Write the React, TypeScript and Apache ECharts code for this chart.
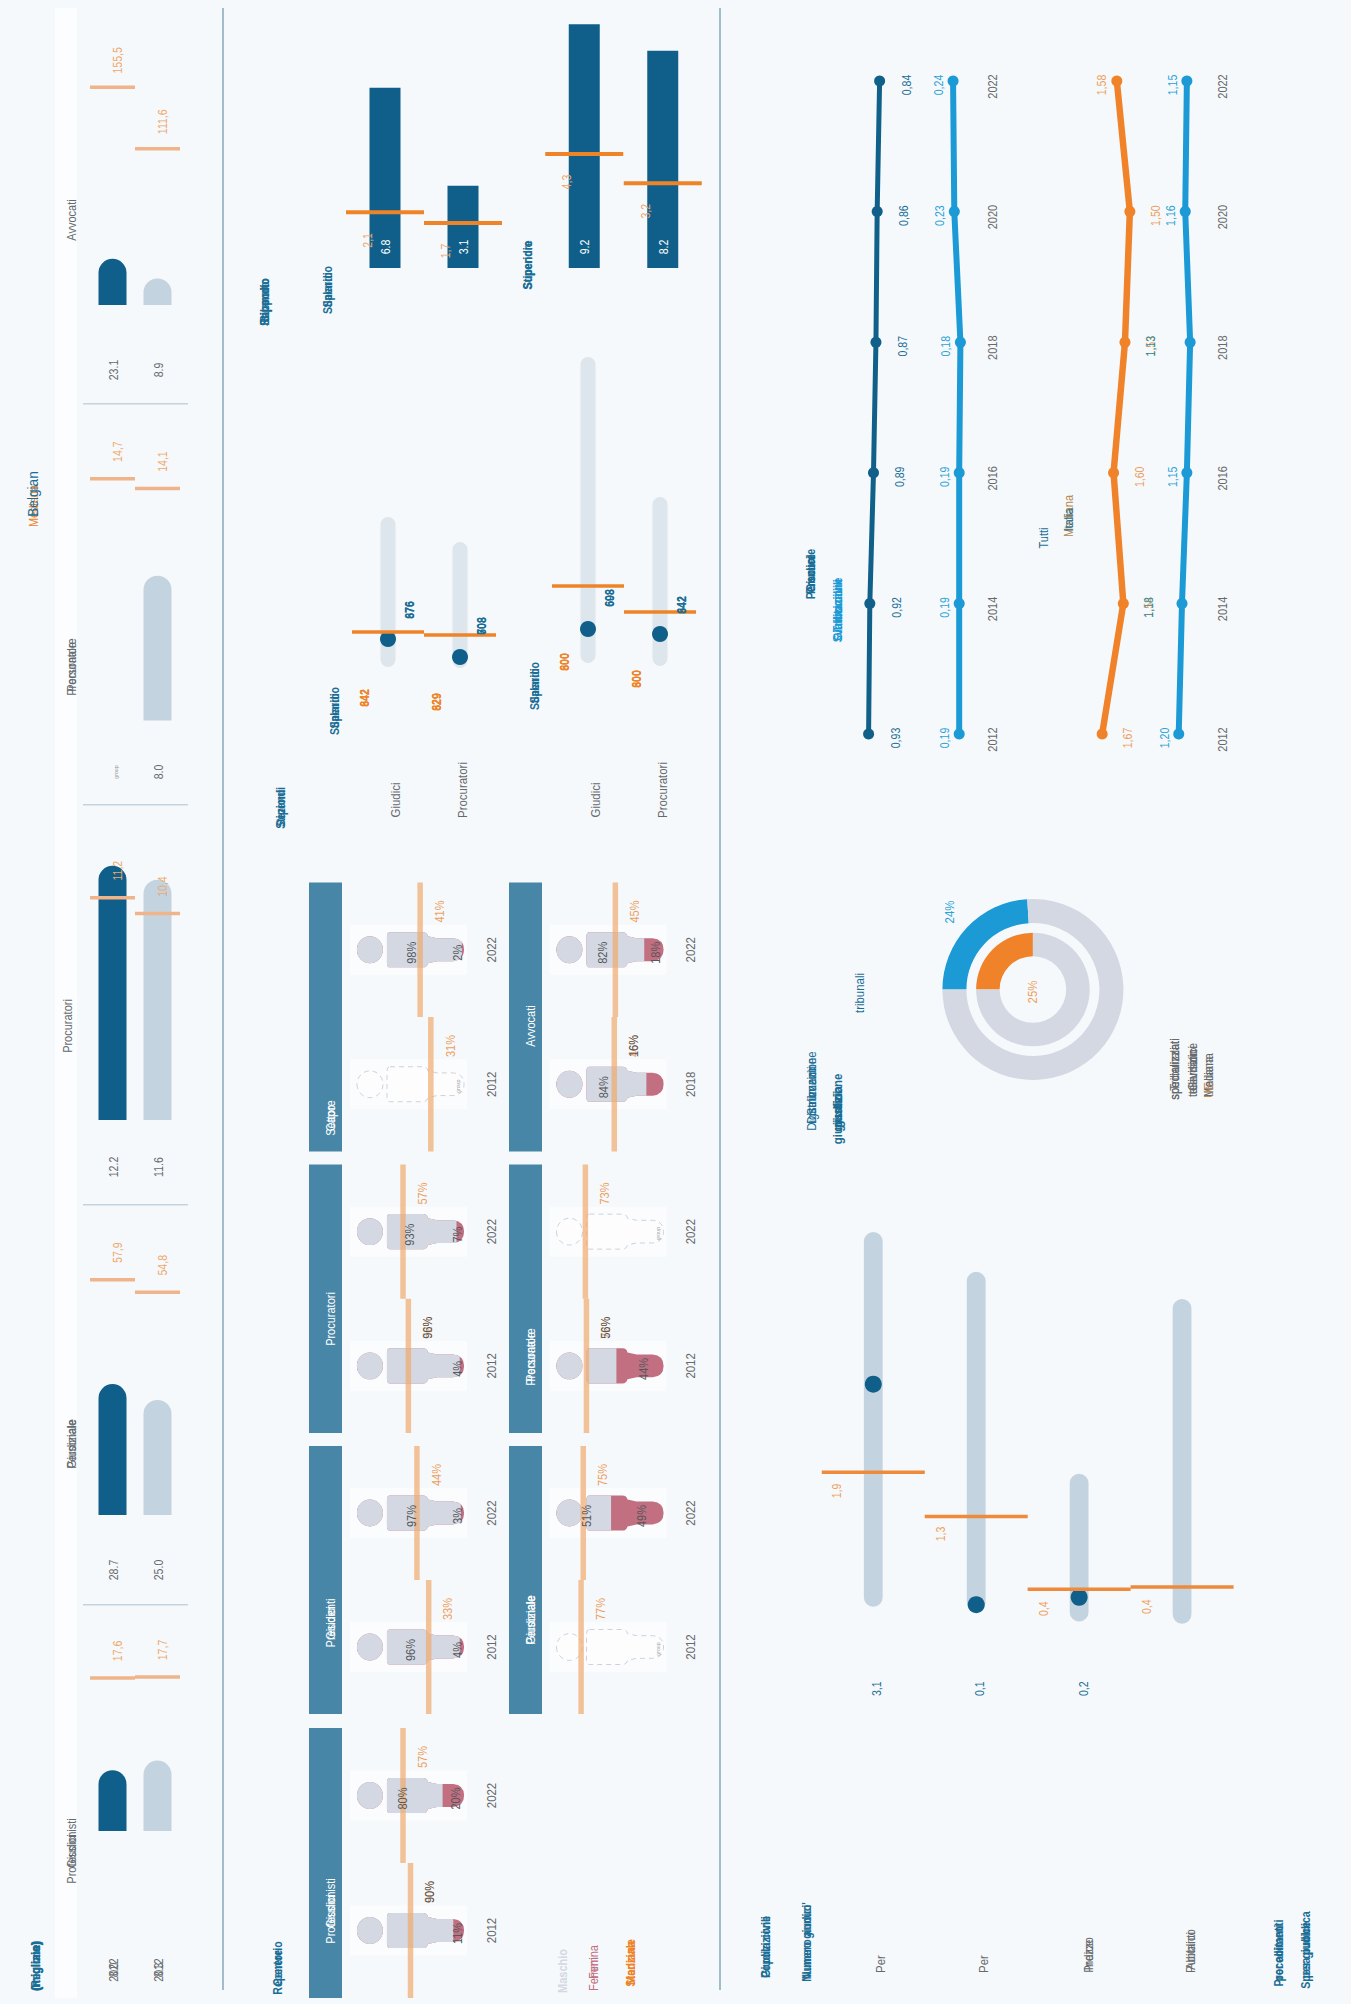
import React, { useEffect, useRef } from "react";
import * as echarts from "echarts";

const BG = "#f6f9fb", DARK = "#0f5f8a", LIGHT = "#c3d4e0", PALE = "#dce6ec", ORANGE = "#ee8427", PEACH = "#f2bd94";
const SKY = "#1c9ad6", TEAL = "#4786a6", BLUE = "#1a6e96", GREY = "#666a6e", BODY = "#d3d8e2", PINK = "#c26f82";

// Section 1: staff per 100 000 inhabitants
const staffTitles = [["Avvocati"], ["Personale", "Procuratore"], ["Procuratori"], ["Personale", "Giudiziale"], ["Giudici", "Professionisti"]];
const staffDarkDrawn = [33, null, 12.8, 32.2, 7];
const staffLightDrawn = [19, 8.8, 12.1, 28.3, 8.1];
const staffDarkLabels = ["23.1", "group", "12.2", "28.7", "8.0"];
const staffLightLabels = ["8.9", "8.0", "11.6", "25.0", "8.3"];
const staffDarkMedian = [155.5, 14.7, 11.2, 57.9, 17.6];
const staffLightMedian = [111.6, 14.1, 10.4, 54.8, 17.7];
const staffAxisMax = [214.3, 18.24, 15.11, 73.8, 34.5];

// Section 2: salaries
const salaryCats = ["Giudici", "Procuratori"];
const salaryA = [6.8, 3.1];
const salaryAMedian = [2.1, 1.7];
const salaryB = [9.2, 8.2];
const salaryBMedian = [4.3, 3.2];
const rangeATracks = [[1, 151], [0, 126]];
const rangeADots = [29, 11];
const rangeAMedian = [36, 33];
const rangeBTracks = [[5, 311], [2, 171]];
const rangeBDots = [39, 34];
const rangeBMedian = [82, 56];
const rangeBlue = [["676", "876"], ["708", "608"], ["698", "608"], ["642", "842"]];
const rangeOrange = [["642", "842"], ["629", "829"], ["600", "800"], ["600", "800"]];

// Section 2: gender
const groupTitles = [["Capo", "Settore"], ["Procuratori"], ["Presidenti", "Giudici"], ["Giudici", "Professionisti"], ["Avvocati"], ["Personale", "Procuratore"], ["Personale", "Giudiziale"]];
const groupYears = [["2022", "2012"], ["2022", "2012"], ["2022", "2012"], ["2022", "2012"], ["2022", "2018"], ["2022", "2012"], ["2022", "2012"]];
const groupMale = [[98, null], [93, 96], [97, 96], [80, 90], [82, 84], [null, 56], [51, null]];
const groupFemale = [[2, null], [7, 4], [3, 4], [20, 11], [18, 16], [null, 44], [49, null]];
const groupMedian = [[41, 31], [57, 52], [44, 33], [57, 50], [45, 46], [73, 72], [75, 77]];
const groupOverlap = [[0, 0], [0, "m"], [0, 0], [0, "m"], [0, "f"], [0, "m"], [0, 0]];

// Section 3: lines
const lineYears = ["2022", "2020", "2018", "2016", "2014", "2012"];
const lineDark = [0.84, 0.86, 0.87, 0.89, 0.92, 0.93];
const lineSky = [0.24, 0.23, 0.18, 0.19, 0.19, 0.19];
const lineMedian = [1.58, 1.5, 1.53, 1.6, 1.54, 1.67];
const lineAll = [1.15, 1.16, 1.13, 1.15, 1.18, 1.2];
const lineMedianLabels = ["1,58", "1,50", "1,53", "1,60", "1,54", "1,67"];
const lineAllLabels = ["1,15", "1,16", "1,13", "1,15", "1,18", "1,20"];
const donutOuter = [24, 76];
const donutInner = [25, 75];

// Section 3: ranges
const spendCats = ["Per", "Per", "Indice", "Pubblico"];
const spendRanges = [[0.07, 5.17], [0, 4.63], [-0.13, 1.88], [-0.16, 4.26]];
const spendValues = [3.1, 0.1, 0.2, null];
const spendMedianDrawn = [1.9, 1.3, 0.31, 0.34];
const spendMedianLabels = ["1,9", "1,3", "0,4", "0,4"];

const PERSON_D = "M0 18a13 13 0 1 0 26 0a13 13 0 1 0 -26 0Z M33 1 H66 Q70 1 71 5 L80 7 H96 Q107 8 107 18 Q107 28 96 29 H80 L71 31 Q70 35 66 35 H33 Q30 35 30 31 V5 Q30 1 33 1Z";
const PERSON = "path://" + PERSON_D;

const comma = (v: number) => String(v).replace(".", ",");
const S = (x: number) => 730 + (x - 730) * 0.9873;

function T(x: number, y: number, text: string, fill: string, size = 12.5, o: any = {}) {
  return {
    type: "text", x, y, rotation: Math.PI / 2, scaleX: o.sx ?? 0.88, z: 50, silent: true,
    style: {
      text, fill, font: `${o.weight ?? "normal"} ${size}px "Liberation Sans", Arial, sans-serif`,
      textAlign: "center", textVerticalAlign: "middle", align: "center", verticalAlign: "middle", opacity: o.opacity ?? 1,
    },
  };
}
const multi = (x: number, y: number, texts: string[], fill: string, size = 12.5, o: any = {}) => texts.map((t) => T(x, y, t, fill, size, o));

function buildOption() {
  const grid: any[] = [], xAxis: any[] = [], yAxis: any[] = [], series: any[] = [], g: any[] = [];
  const addGrid = (left: number, top: number, width: number, height: number, x: any, y: any) => {
    grid.push({ left, top, width, height });
    xAxis.push({ show: false, gridIndex: grid.length - 1, ...x });
    yAxis.push({ show: false, gridIndex: grid.length - 1, ...y });
    return grid.length - 1;
  };
  const rect = (x: number, y: number, w: number, h: number, fill: string, z = 0) => ({ type: "rect", z, silent: true, shape: { x, y, width: w, height: h }, style: { fill } });
  const solid = (color: string) => ({ color, opacity: 1 });

  // Frame
  g.push(rect(55, 8, 22, 1990, "#fbfdfe"));
  g.push(rect(222, 8, 2, 1982, "#a3bccb"), rect(719, 8, 2, 1982, "#a3bccb"));
  [403, 804, 1204, 1604].forEach((y) => g.push(rect(83, y, 105, 1.5, "#c3d4e0")));

  // Section 1
  const staffBase = [305, 720.5, 1120, 1515, 1831];
  const titleX = [71, 71, 67, 71, 71];
  const titleY = [220, 667, 1026, 1444, 1851];
  const valueY = [370, 772, 1167, 1570, 1970];
  const scale = [1.4, 16.45, 19.85, 4.065, 8.7];
  staffBase.forEach((base, i) => {
    const k = addGrid(90, base - 300, 90, 300, { type: "category", data: ["2022", "2012"] }, { type: "value", min: 0, max: staffAxisMax[i] });
    series.push({
      type: "bar", xAxisIndex: k, yAxisIndex: k, barWidth: 28, barGap: "-100%", z: 2,
      data: [
        { value: staffDarkDrawn[i], itemStyle: { color: DARK } },
        { value: staffLightDrawn[i], itemStyle: { color: LIGHT } },
      ],
      itemStyle: { borderRadius: [14, 14, 0, 0] },
    });
    series.push({
      type: "scatter", xAxisIndex: k, yAxisIndex: k, symbol: "rect", symbolSize: [45, 3.5], z: 4,
      itemStyle: solid("#efb48a"), data: [staffDarkMedian[i], staffLightMedian[i]],
    });
    g.push(...multi(titleX[i], titleY[i], staffTitles[i], GREY));
    const dl = staffDarkLabels[i];
    if (dl === "group") g.push(T(116, valueY[i], dl, "#999", 6));
    else g.push(T(114, valueY[i], dl, GREY, 12));
    g.push(T(159, valueY[i], staffLightLabels[i], GREY, 12));
    g.push(T(118, base - staffDarkMedian[i] * scale[i] - 27, comma(staffDarkMedian[i]), "#eea76c", 12));
    g.push(T(163, base - staffLightMedian[i] * scale[i] - 27, comma(staffLightMedian[i]), "#eea76c", 12));
  });
  g.push(T(114, 1970, "2022", GREY, 12), T(159, 1970, "2012", GREY, 12));
  g.push(...multi(35, 1966, ["(migliaia)", "(migliaio)", "(Regione)"], BLUE, 12.5, { weight: "bold" }));
  g.push(T(33, 506, "Mediana", ORANGE, 12.5), T(33, 494, "Belgian", BLUE, 15.5));

  // Section 2: salary bars
  [[346, salaryA, salaryAMedian, 156], [545, salaryB, salaryBMedian, 157]].forEach(([left, vals, med, w]: any) => {
    const k = addGrid(left, 3, w, 265, { type: "category", data: salaryCats }, { type: "value", min: 0, max: 10 });
    series.push({ type: "bar", xAxisIndex: k, yAxisIndex: k, barWidth: 31, itemStyle: { color: DARK }, z: 2, data: vals });
    series.push({ type: "scatter", xAxisIndex: k, yAxisIndex: k, symbol: "rect", symbolSize: [78, 4], itemStyle: solid(ORANGE), z: 4, data: med });
    const cx = [left + w / 4, left + (3 * w) / 4];
    vals.forEach((v: number, j: number) => {
      g.push(T(cx[j] + 1, 247, v.toFixed(1), "#fff", 12));
      g.push(T(cx[j] - 17, 268 - med[j] * 26.5 + 28, comma(med[j]), "#eea76c", 12));
    });
  });
  g.push(...multi(265, 302, ["Rapporto", "Bilancio", "Stipendio"], BLUE, 12, { weight: "bold" }));
  g.push(...multi(328, 290, ["Stipendio", "Salario"], BLUE, 12, { weight: "bold" }));
  g.push(...multi(528, 265, ["Stipendio", "Superiore"], BLUE, 12, { weight: "bold" }));

  // Section 2: salary ranges
  const trackItem = (w: number, color: string) => (params: any, api: any) => {
    const hi = api.coord([api.value(0), api.value(2)]);
    const lo = api.coord([api.value(0), api.value(1)]);
    return { type: "rect", shape: { x: hi[0] - w / 2, y: hi[1], width: w, height: lo[1] - hi[1], r: w / 2 }, style: { fill: color } };
  };
  const rangeGroups: any[] = [[352, 320, rangeATracks, rangeADots, rangeAMedian, 0], [552, 320, rangeBTracks, rangeBDots, rangeBMedian, 2]];
  rangeGroups.forEach(([left, h, tracks, dots, med, off]) => {
    const k = addGrid(left, 668 - h, 144, h, { type: "category", data: salaryCats }, { type: "value", min: 0, max: h });
    series.push({
      type: "custom", xAxisIndex: k, yAxisIndex: k, z: 2, renderItem: trackItem(15, PALE),
      encode: { x: 0, y: [1, 2] }, data: tracks.map((t: number[], j: number) => [j, t[0], t[1]]),
    });
    series.push({ type: "scatter", xAxisIndex: k, yAxisIndex: k, symbol: "rect", symbolSize: [72, 3.5], itemStyle: solid(ORANGE), z: 4, data: med });
    series.push({ type: "scatter", xAxisIndex: k, yAxisIndex: k, symbol: "circle", symbolSize: 16, itemStyle: solid(DARK), z: 3, data: dots });
    const cx = [left + 36, left + 108];
    [0, 1].forEach((j) => {
      g.push(...multi(cx[j] + 22, [610, 626, 598, 605][off + j], rangeBlue[off + j], BLUE, 12, { weight: "bold" }));
      g.push(...multi(cx[j] - 23, [698, 702, 662, 679][off + j], rangeOrange[off + j], ORANGE, 12, { weight: "bold" }));
    });
    g.push(...multi(cx[0] - 53, [711, 686][off / 2], ["Stipendio", "Salario"], BLUE, 12, { weight: "bold" }));
    g.push(T(cx[0] + 8, 800, salaryCats[0], GREY, 13), T(cx[1] + 3, 790, salaryCats[1], GREY, 13));
  });
  g.push(...multi(281, 808, ["Sezioni", "Stipendi"], BLUE, 12, { weight: "bold" }));

  // Section 2: gender
  const groupCol = [0, 0, 0, 0, 1, 1, 1];
  const groupSeg = [0, 1, 2, 3, 0, 1, 2];
  const segTop = [882.5, 1164.5, 1446, 1728];
  const segH = [269, 268.5, 268, 270];
  const headX = [309, 509];
  const personLeft = [357, 556.5];
  const headTitleY = [[1118, 1319, 1623, 1911], [1026, 1357, 1620]];
  const yearX = [492, 691];
  groupTitles.forEach((titles, i) => {
    const col = groupCol[i], seg = groupSeg[i], left = personLeft[col], top = segTop[seg], h = segH[seg];
    g.push(rect(headX[col], top, 33, h, TEAL, 1));
    g.push(...multi(headX[col] + 21, headTitleY[col][seg], titles, "#fff", 12.5));
    const k = addGrid(left, top, 107, h, { type: "value", min: 0, max: 100 }, { type: "category", inverse: true, data: groupYears[i] });
    const male = groupMale[i];
    const sym = { symbol: PERSON, symbolSize: [107, 35], symbolPosition: "start", symbolBoundingData: 100, barGap: "-100%" };
    series.push({ type: "pictorialBar", xAxisIndex: k, yAxisIndex: k, z: 2, ...sym, itemStyle: { color: PINK }, data: male.map((m) => (m == null ? null : 100)) });
    series.push({ type: "pictorialBar", xAxisIndex: k, yAxisIndex: k, z: 3, ...sym, symbolClip: true, itemStyle: { color: BODY }, data: male });
    series.push({
      type: "custom", xAxisIndex: k, yAxisIndex: k, z: 2,
      encode: { x: 0, y: 1 },
      renderItem: (params: any, api: any) => {
        const c = api.coord([api.value(0), api.value(1)]);
        return {
          type: "path",
          shape: { pathData: PERSON_D, layout: "cover", x: c[0], y: c[1] - 17.5, width: 107, height: 35 },
          style: { fill: "rgba(255,255,255,0.45)", stroke: "#cdd2da", lineWidth: 1, lineDash: [5, 4] },
        };
      },
      data: male.flatMap((m, j) => (m == null ? [[0, j]] : [])),
    });
    series.push({
      type: "scatter", xAxisIndex: k, yAxisIndex: k, z: 5, symbol: "rect", symbolSize: [5.5, h / 2],
      itemStyle: { color: "rgba(240,170,110,0.7)", opacity: 1 }, data: groupMedian[i].map((p, j) => [100 - p, j]),
    });
    [0, 1].forEach((j) => {
      const band = top + (h / 2) * j;
      const cy = band + h / 4;
      g.push(rect(left - 7, cy - 25, 117, 50, "#fbfcfd"));
      g.push(T(yearX[col], cy, groupYears[i][j], GREY, 13));
      const p = groupMedian[i][j];
      const medX = left + 107 - p * 1.07;
      g.push(T(medX + 19, band + 29, `${p}%`, "#ed9f5f", 12.5));
      const m = male[j], f = groupFemale[i][j], over = groupOverlap[i][j];
      if (m == null) {
        g.push(T(left + 101, cy + 2, "group", "#aaa", 6));
      } else {
        if (over === "m") g.push(T(medX + 19, band + 29, `${m}%`, "#55585c", 12.5));
        else g.push(T(left + m * 0.535 + 2, cy + 3, `${m}%`, "#55585c", 12.5));
        const fx = left + 107 - Math.max(6.5, (f as number) * 0.45);
        if (over === "f") g.push(T(medX + 19, band + 29, `${f}%`, "#55585c", 12.5));
        else g.push(T(fx, cy + 3, `${f}%`, "#55585c", 12.5));
      }
    });
  });
  g.push(...multi(278, 1968, ["Genere", "Repertorio"], BLUE, 12, { weight: "bold" }));
  g.push(T(562, 1971, "Maschio", "#d3d8e2", 12.5, { weight: "bold" }));
  g.push(...multi(593, 1968, ["Femmina", "Fem"], PINK, 12.5));
  g.push(...multi(630, 1963, ["Mediana", "Stanziale"], ORANGE, 12.5, { weight: "bold" }));

  // Section 3: lines
  const lineCfg = { type: "category", boundaryGap: false, inverse: true, data: lineYears };
  const k1 = addGrid(S(861.7), 81, 124 * 0.9873, 653, { type: "value", min: 0, max: 1, inverse: true }, lineCfg);
  const k2 = addGrid(S(1052.5), 81, 165 * 0.9873, 653, { type: "value", min: 1, max: 2, inverse: true }, lineCfg);
  const addLine = (k: number, vals: number[], color: string, width: number) =>
    series.push({
      type: "line", xAxisIndex: k, yAxisIndex: k, z: 3, symbol: "circle", symbolSize: 11, showSymbol: true,
      lineStyle: { color, width }, itemStyle: { color, opacity: 1 }, data: vals.map((v, j) => [v, j]),
    });
  addLine(k1, lineDark, "#11608a", 5);
  addLine(k1, lineSky, SKY, 6);
  addLine(k2, lineMedian, "#f0832a", 6.5);
  addLine(k2, lineAll, SKY, 6);
  const ly = (j: number) => 81 + j * 130.6;
  lineYears.forEach((yr, j) => {
    g.push(T(S(995.5), ly(j) + 5.5, yr, GREY, 12.5), T(S(1228.6), ly(j) + 5.5, yr, GREY, 12.5));
    const dx = 870.4 + (0.93 - lineDark[j]) * 124;
    g.push(T(S(dx + 27), ly(j) + 4, comma(lineDark[j]), BLUE, 12));
    const sx = 870.4 + (0.93 - lineSky[j]) * 124;
    g.push(T(S(sx - 15), ly(j) + 4, comma(lineSky[j]), "#2aa2d8", 12));
    const mx = 1107 + (1.67 - lineMedian[j]) * 165;
    const ox = j === 0 ? mx - 15 : mx + 26;
    g.push(T(S(ox), ly(j) + 4, lineMedianLabels[j], "#ed9f5f", 12));
    const ax = 1107 + (1.67 - lineAll[j]) * 165;
    const overlap = j === 2 || j === 4;
    g.push(T(S(overlap ? ox : ax - 14.5), ly(j) + 4, lineAllLabels[j], overlap ? "#2a8f9f" : "#2aa2d8", 12));
  });
  g.push(...multi(S(812), 574, ["Giudici", "Procure", "Personale"], BLUE, 12, { weight: "bold" }));
  g.push(...multi(S(839), 610, ["Tribunali", "Giudizi civili", "Svalutazione"], SKY, 12, { weight: "bold" }));
  g.push(T(S(1047), 538, "Tutti", BLUE, 12.5));
  g.push(T(S(1073), 516, "Mediana", "#b5884f", 12.5), T(S(1073), 520, "Italia", BLUE, 12.5));

  // Section 3: donuts
  const pie = (radius: number[], vals: number[], color: string) =>
    series.push({
      type: "pie", center: [S(1036.8), 989.5], radius, startAngle: 180, clockwise: true, silent: true, label: { show: false }, labelLine: { show: false }, z: 3,
      data: [{ value: vals[0], itemStyle: { color } }, { value: vals[1], itemStyle: { color: BODY } }],
    });
  pie([66.5, 90.5], donutOuter, SKY);
  pie([33.3, 56.8], donutInner, "#f0832a");
  g.push(T(S(952.6), 912, `${donutOuter[0]}%`, "#2aa2d8", 13), T(S(1037), 992, `${donutInner[0]}%`, "#ed9f5f", 13));
  g.push(T(S(861.6), 993, "tribunali", BLUE, 13));
  g.push(...multi(S(813), 1091, ["Digitalizzazione", "Distribuzione", "Strumenti"], BLUE, 13));
  g.push(...multi(S(839), 1109, ["giurisdizione", "giustizia", "giudici"], BLUE, 13, { weight: "bold" }));
  g.push(...multi(S(1180), 1069, ["Tribunali", "specializzati", "specializzati"], GREY, 13));
  g.push(...multi(S(1199), 1070, ["Giudizio", "televisione", "telematici"], GREY, 13));
  g.push(...multi(S(1214.5), 1075, ["Italiana", "Mediana"], GREY, 13), T(S(1214.5), 1090, "UE", "#c58a55", 13));

  // Section 3: ranges
  const k3 = addGrid(S(823), 1207.75, 417 * 0.9873, 441, { type: "category", data: spendCats }, { type: "value", min: -0.5, max: 5.5 });
  series.push({
    type: "custom", xAxisIndex: k3, yAxisIndex: k3, z: 2, renderItem: trackItem(18.8, LIGHT),
    encode: { x: 0, y: [1, 2] }, data: spendRanges.map((r, j) => [j, r[0], r[1]]),
  });
  series.push({ type: "scatter", xAxisIndex: k3, yAxisIndex: k3, symbol: "rect", symbolSize: [103, 3.5], itemStyle: solid("#ee8a3a"), z: 4, data: spendMedianDrawn });
  series.push({ type: "scatter", xAxisIndex: k3, yAxisIndex: k3, symbol: "circle", symbolSize: 17, itemStyle: solid(DARK), z: 3, data: spendValues.map((v) => (v == null ? "-" : v)) });
  const spendX = [875.6, 980.3, 1085, 1189];
  spendMedianLabels.forEach((t, j) => {
    g.push(T(S(spendX[j] - 37), [1491, 1534, 1608.7, 1606.7][j], t, "#ed9f5f", 12));
    const v = spendValues[j];
    if (v != null) g.push(T(S(spendX[j] + 3), 1688.7, comma(v), BLUE, 12));
  });
  g.push(T(S(883), 1964, spendCats[0], GREY, 13), T(S(987.5), 1964, spendCats[1], GREY, 13));
  g.push(...multi(S(1093), 1955, ["Indice", "Prezzo"], GREY, 13));
  g.push(...multi(S(1196.5), 1951, ["Pubblico", "Abitanti"], GREY, 13));
  g.push(...multi(S(766), 1947, ["Giudizi civili", "Popolazione"], BLUE, 12, { weight: "bold" }));
  g.push(...multi(S(808), 1942, ["Numero giudici'", "Numero annuo"], BLUE, 12, { weight: "bold" }));
  g.push(...multi(S(1285.5), 1953, ["Procedimenti", "per abitanti"], BLUE, 12, { weight: "bold" }));
  g.push(...multi(S(1313.6), 1950, ["Spesa pubblica", "per giudice"], BLUE, 12, { weight: "bold" }));

  return { animation: false, backgroundColor: BG, grid, xAxis, yAxis, series, graphic: { elements: g } };
}

export default function App() {
  const ref = useRef<HTMLDivElement>(null);
  useEffect(() => {
    document.body.style.margin = "0";
    document.body.style.background = BG;
    const chart = echarts.init(ref.current!, undefined, { renderer: "svg" });
    chart.setOption(buildOption() as any);
    return () => chart.dispose();
  }, []);
  return <div ref={ref} style={{ position: "absolute", left: 0, top: 0, width: 1351, height: 2004 }} />;
}
